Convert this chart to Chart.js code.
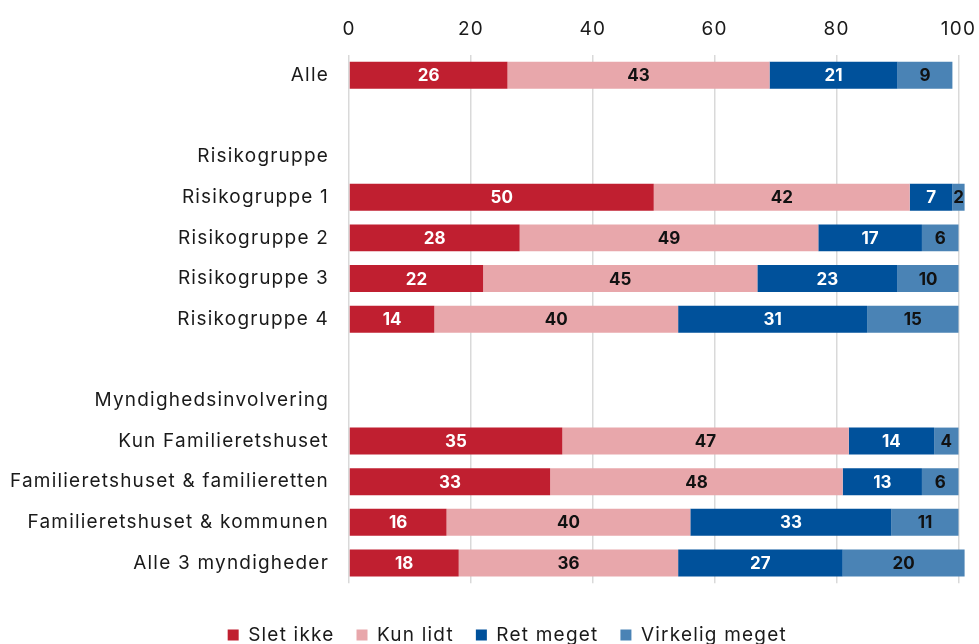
<!DOCTYPE html>
<html>
<head>
<meta charset="utf-8">
<script src="https://cdn.jsdelivr.net/npm/chart.js@4/dist/chart.umd.min.js"></script>
<style>
  html, body { margin: 0; padding: 0; background: #fff; }
  #wrap { width: 979px; height: 644px; position: relative; }
</style>
</head>
<body>
<div id="wrap"><canvas id="c"></canvas></div>
<script>
const categories = [
  "Alle", "", "Risikogruppe", "Risikogruppe 1", "Risikogruppe 2", "Risikogruppe 3", "Risikogruppe 4",
  "", "Myndighedsinvolvering", "Kun Familieretshuset", "Familieretshuset & familieretten",
  "Familieretshuset & kommunen", "Alle 3 myndigheder"
];
const sletIkke      = [26, null, null, 50, 28, 22, 14, null, null, 35, 33, 16, 18];
const kunLidt       = [43, null, null, 42, 49, 45, 40, null, null, 47, 48, 40, 36];
const retMeget      = [21, null, null, 7, 17, 23, 31, null, null, 14, 13, 33, 27];
const virkeligMeget = [9, null, null, 2, 6, 10, 15, null, null, 4, 6, 11, 20];
const xTicks = [0, 20, 40, 60, 80, 100];

const FONT = "Inter, 'Noto Sans', sans-serif";
const SPACING = '1.2px';

const spacingPlugin = {
  id: 'spacing',
  beforeInit(chart) { chart.ctx.letterSpacing = SPACING; },
  beforeUpdate(chart) { chart.ctx.letterSpacing = SPACING; },
  beforeLayout(chart) { chart.ctx.letterSpacing = SPACING; },
  afterLayout(chart) {
    if (chart.legend) { chart.legend.left += 56; }
  },
  beforeDraw(chart) { chart.ctx.letterSpacing = SPACING; }
};

const labelPlugin = {
  id: 'barLabels',
  afterDatasetsDraw(chart) {
    const ctx = chart.ctx;
    ctx.save();
    ctx.letterSpacing = '0px';
    ctx.font = "bold 17px " + FONT;
    ctx.textAlign = 'center';
    ctx.textBaseline = 'middle';
    chart.data.datasets.forEach((ds, di) => {
      const meta = chart.getDatasetMeta(di);
      meta.data.forEach((bar, i) => {
        const v = ds.data[i];
        if (v === null || v === undefined) return;
        const x = (bar.x + bar.base) / 2;
        ctx.fillStyle = ds.labelColor;
        ctx.fillText(String(v), x, bar.y + 1);
      });
    });
    ctx.restore();
  }
};

new Chart(document.getElementById('c'), {
  type: 'bar',
  data: {
    labels: categories,
    datasets: [
      { label: 'Slet ikke', data: sletIkke, backgroundColor: '#C01F30', labelColor: '#ffffff' },
      { label: 'Kun lidt', data: kunLidt, backgroundColor: '#E8A7AB', labelColor: '#111111' },
      { label: 'Ret meget', data: retMeget, backgroundColor: '#00519B', labelColor: '#ffffff' },
      { label: 'Virkelig meget', data: virkeligMeget, backgroundColor: '#4A83B5', labelColor: '#111111' }
    ]
  },
  plugins: [spacingPlugin, labelPlugin],
  options: {
    indexAxis: 'y',
    responsive: true,
    maintainAspectRatio: false,
    animation: false,
    layout: { padding: { left: 0, right: 20.5, top: 0, bottom: 0 } },
    datasets: { bar: { barPercentage: 0.664, categoryPercentage: 1.0, clip: false } },
    scales: {
      x: {
        position: 'top',
        stacked: true,
        min: 0,
        max: 100,
        afterBuildTicks(axis) { axis.ticks = xTicks.map(v => ({ value: v })); },
        afterFit(scale) { scale.height = 55; scale.paddingLeft = 0; scale.paddingRight = 0; },
        border: { display: false },
        grid: { color: '#d9d9d9', lineWidth: 1.5, drawTicks: false },
        ticks: { color: '#1a1a1a', font: { family: FONT, size: 19 }, padding: 14, maxRotation: 0 }
      },
      y: {
        stacked: true,
        afterFit(scale) { scale.width = 349; },
        border: { display: false },
        grid: { display: false, drawTicks: false },
        ticks: { color: '#1a1a1a', font: { family: FONT, size: 19 }, padding: 20, autoSkip: false }
      }
    },
    plugins: {
      legend: {
        position: 'bottom',
        maxHeight: 60.7,
        title: { display: true, text: '', font: { size: 1 }, padding: { top: 0, bottom: 19 } },
        labels: {
          boxWidth: 11, boxHeight: 11, color: '#1a1a1a',
          font: { family: FONT, size: 19 }, padding: 22
        }
      },
      tooltip: { enabled: false }
    }
  }
});
</script>
</body>
</html>
